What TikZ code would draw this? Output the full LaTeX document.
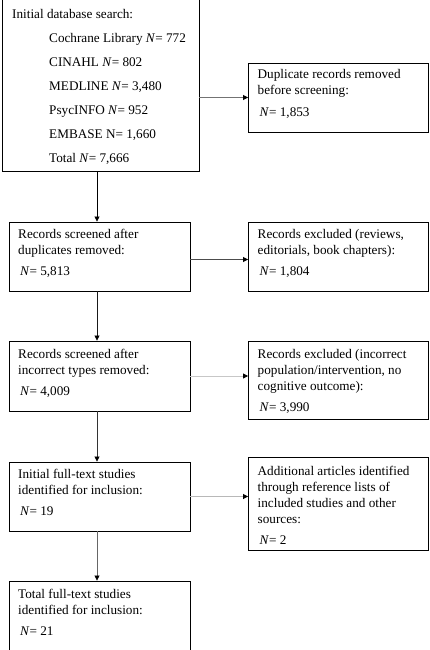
\documentclass[tikz,border=0pt]{standalone}
\usepackage{fontspec}
\setmainfont{Liberation Serif}
\usetikzlibrary{arrows.meta}
\newcommand{\nN}{\textit{N}}
\tikzset{
  box/.style={draw=black, line width=0.9pt, inner sep=0pt, fill=none},
  txt/.style={anchor=base west, inner sep=0pt},
  conn/.style={line width=0.8pt, -{Triangle[length=5pt,width=5pt,color=black]}},
}
\newcommand{\bt}[2][16]{\parbox[t]{178pt}{\fontsize{13.2}{#1}\selectfont\raggedright #2}}
\begin{document}
\begin{tikzpicture}[x=1pt,y=-1pt]
\useasboundingbox (0,0) rectangle (429,650);
\fill[white] (0,0) rectangle (429,650);
\clip (0,0) rectangle (429,650);
% boxes
\node[box, minimum width=197pt, minimum height=181pt] (top) at (100.5,80.5) {};
\node[box, minimum width=179.5pt, minimum height=69pt] (dup) at (338.25,97.5) {};
\node[box, minimum width=181pt, minimum height=69pt] (b2) at (99.5,256.5) {};
\node[box, minimum width=179.5pt, minimum height=69pt] (rv) at (338.25,256.5) {};
\node[box, minimum width=181pt, minimum height=70pt] (b3) at (99.5,376) {};
\node[box, minimum width=179.5pt, minimum height=78pt] (ex) at (338.25,380) {};
\node[box, minimum width=181pt, minimum height=69pt] (b4) at (99.5,496.5) {};
\node[box, minimum width=179.5pt, minimum height=93pt] (ad) at (338.25,503.5) {};
\node[box, minimum width=181pt, minimum height=89pt] (b5) at (99.5,625.5) {};
% texts
\node[txt] (ttop) at (12,19) {\parbox[t]{185pt}{\fontsize{13.2}{24}\selectfont
  Initial database search:\\
  \hspace*{37pt}Cochrane Library \nN= 772\\
  \hspace*{37pt}CINAHL \nN= 802\\
  \hspace*{37pt}MEDLINE \nN= 3,480\\
  \hspace*{37pt}PsycINFO \nN= 952\\
  \hspace*{37pt}EMBASE N= 1,660\\
  \hspace*{37pt}Total \nN= 7,666}};
\node[txt] (tdup) at (257.5,79) {\bt{Duplicate records removed\\ before screening:\\[6pt] \hspace*{2pt}\nN= 1,853}};
\node[txt] (tb2) at (18,238) {\bt{Records screened after\\ duplicates removed:\\[5pt] \hspace*{2pt}\nN= 5,813}};
\node[txt] (trv) at (257.5,238) {\bt{Records excluded (reviews,\\ editorials, book chapters):\\[5pt] \hspace*{2pt}\nN= 1,804}};
\node[txt] (tb3) at (18,358) {\bt{Records screened after\\ incorrect types removed:\\[5pt] \hspace*{2pt}\nN= 4,009}};
\node[txt] (tex) at (257.5,358) {\bt{Records excluded (incorrect\\ population/intervention, no\\ cognitive outcome):\\[5pt] \hspace*{2pt}\nN= 3,990}};
\node[txt] (tb4) at (18,478) {\bt{Initial full-text studies\\ identified for inclusion:\\[5pt] \hspace*{2pt}\nN= 19}};
\node[txt] (tad) at (257.5,475) {\bt{Additional articles identified\\ through reference lists of\\ included studies and other\\ sources:\\[5pt] \hspace*{2pt}\nN= 2}};
\node[txt] (tb5) at (18,598) {\bt{Total full-text studies\\ identified for inclusion:\\[5pt] \hspace*{2pt}\nN= 21}};
% connectors
\coordinate (axis) at (97,0);
\draw[conn, draw=black!55] (top.east |- dup.west) -- (dup.west);
\draw[conn, draw=black] (top.south -| axis) -- (b2.north -| axis);
\draw[conn, draw=black!70] ([yshift=-3pt]b2.east) -- ([yshift=-3pt]b2.east -| rv.west);
\draw[conn, draw=black!90] (b2.south -| axis) -- (b3.north -| axis);
\draw[conn, draw=black!22] (b3.east) -- (b3.east -| ex.west);
\draw[conn, draw=black!80] (b3.south -| axis) -- (b4.north -| axis);
\draw[conn, draw=black!28] (b4.east) -- (b4.east -| ad.west);
\draw[conn, draw=black!60] (b4.south -| axis) -- (b5.north -| axis);
\end{tikzpicture}
\end{document}
